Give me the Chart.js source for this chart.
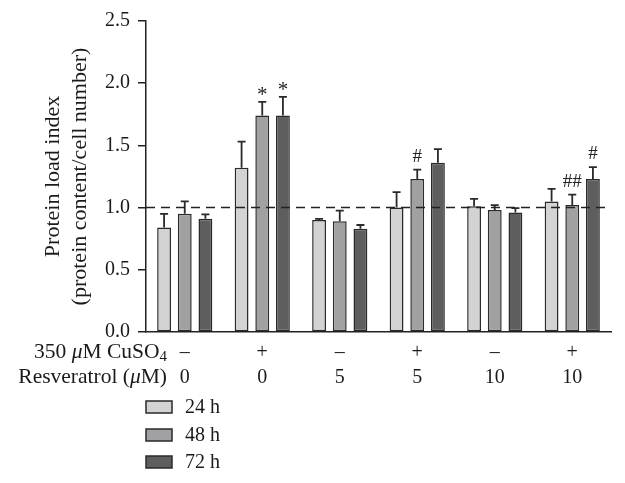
<!DOCTYPE html>
<html>
<head>
<meta charset="utf-8">
<script src="https://cdn.jsdelivr.net/npm/chart.js@4"></script>
<style>
html,body{margin:0;padding:0;background:#fff;}
#wrap{width:625px;height:483px;}
</style>
</head>
<body>
<div id="wrap"><canvas id="c" width="625" height="483"></canvas></div>
<script>
// ---- data ----
const cuso4Row = ['–', '+', '–', '+', '–', '+'];
const resveratrolRow = ['0', '0', '5', '5', '10', '10'];
const seriesNames = ['24 h', '48 h', '72 h'];
const values24 = [0.84, 1.32, 0.90, 1.00, 1.01, 1.05];
const values48 = [0.95, 1.74, 0.89, 1.23, 0.98, 1.02];
const values72 = [0.91, 1.74, 0.83, 1.36, 0.96, 1.23];
const err24 = [0.11, 0.21, 0.01, 0.125, 0.06, 0.10];
const err48 = [0.10, 0.11, 0.085, 0.075, 0.04, 0.085];
const err72 = [0.035, 0.15, 0.03, 0.11, 0.035, 0.095];
const marks24 = ['', '', '', '', '', ''];
const marks48 = ['', '*', '', '#', '', '##'];
const marks72 = ['', '*', '', '', '', '#'];
const yTicks = [0, 0.5, 1.0, 1.5, 2.0, 2.5];
const referenceLevel = 1.0;
const yTitleLines = ['Protein load index', '(protein content/cell number)'];

const colors = ['#d3d3d3', '#a1a1a4', '#5e5e5e'];
const edge = '#2a2a2a';
const FONT = '"Liberation Serif", "Times New Roman", serif';

const labels = cuso4Row.map((c, i) => [c, resveratrolRow[i]]);
const vals = [values24, values48, values72];
const errs = [err24, err48, err72];
const marks = [marks24, marks48, marks72];

const datasets = seriesNames.map((n, k) => ({
  label: n,
  data: vals[k],
  backgroundColor: colors[k],
  borderColor: edge,
  borderWidth: 1.5,
  borderSkipped: false,
  categoryPercentage: 0.8,
  barPercentage: 0.67,
  errors: errs[k],
  marks: marks[k]
}));

const extras = {
  id: 'extras',
  afterDatasetsDraw(chart) {
    const ctx = chart.ctx;
    const y = chart.scales.y;
    const area = chart.chartArea;
    ctx.save();
    chart.data.datasets.forEach((ds, di) => {
      const meta = chart.getDatasetMeta(di);
      meta.data.forEach((bar, i) => {
        const v = ds.data[i], e = ds.errors[i];
        const top = y.getPixelForValue(v);
        const et = y.getPixelForValue(v + e);
        ctx.strokeStyle = edge;
        ctx.lineWidth = 1.8;
        ctx.beginPath();
        ctx.moveTo(bar.x, top);
        ctx.lineTo(bar.x, et);
        ctx.moveTo(bar.x - 4, et);
        ctx.lineTo(bar.x + 4, et);
        ctx.stroke();
        const m = ds.marks[i];
        if (m) {
          ctx.fillStyle = '#222';
          ctx.font = (m === '*' ? '21px ' : '19px ') + FONT;
          ctx.textAlign = 'center';
          ctx.textBaseline = 'alphabetic';
          ctx.fillText(m, bar.x, et - (m === '*' ? 1 : 8));
        }
      });
    });
    const ry = y.getPixelForValue(referenceLevel);
    ctx.setLineDash([9, 6]);
    ctx.lineWidth = 1.5;
    ctx.strokeStyle = '#222';
    ctx.beginPath();
    ctx.moveTo(area.left, ry);
    ctx.lineTo(area.right, ry);
    ctx.stroke();
    ctx.setLineDash([]);
    ctx.restore();
  },
  afterDraw(chart) {
    const ctx = chart.ctx;
    const area = chart.chartArea;
    const x = chart.scales.x;
    ctx.save();
    ctx.fillStyle = '#1a1a1a';
    ctx.font = '22px ' + FONT;
    ctx.textAlign = 'center';
    ctx.textBaseline = 'middle';
    const cy = (area.top + area.bottom) / 2;
    [53, 80].forEach((px, i) => {
      ctx.save();
      ctx.translate(px, cy);
      ctx.rotate(-Math.PI / 2);
      ctx.fillText(yTitleLines[i], 0, 0);
      ctx.restore();
    });
    const rightX = 167;
    const lh = 25;
    const row1y = x.top + 8 + lh * 0.5;
    const row2y = row1y + lh;
    ctx.textBaseline = 'middle';
    function drawParts(parts, yy) {
      let w = 0;
      parts.forEach(p => { ctx.font = p.f; w += ctx.measureText(p.t).width; });
      let cx = rightX - w;
      ctx.textAlign = 'left';
      parts.forEach(p => {
        ctx.font = p.f;
        ctx.fillText(p.t, cx, yy + (p.dy || 0));
        cx += ctx.measureText(p.t).width;
      });
    }
    const n = '21.5px ' + FONT, it = 'italic 21.5px ' + FONT, sub = '15px ' + FONT;
    drawParts([{t: '350 ', f: n}, {t: 'μ', f: it}, {t: 'M CuSO', f: n}, {t: '4', f: sub, dy: 5}], row1y);
    drawParts([{t: 'Resveratrol (', f: n}, {t: 'μ', f: it}, {t: 'M)', f: n}], row2y);
    const ly = [407, 435, 462];
    chart.data.datasets.forEach((ds, i) => {
      ctx.fillStyle = ds.backgroundColor;
      ctx.strokeStyle = edge;
      ctx.lineWidth = 1.5;
      ctx.fillRect(146, ly[i] - 6, 26, 12);
      ctx.strokeRect(146, ly[i] - 6, 26, 12);
      ctx.fillStyle = '#1a1a1a';
      ctx.font = '20px ' + FONT;
      ctx.textAlign = 'left';
      ctx.textBaseline = 'middle';
      ctx.fillText(ds.label, 185, ly[i] + 1);
    });
    ctx.restore();
  }
};

new Chart(document.getElementById('c'), {
  type: 'bar',
  data: { labels, datasets },
  plugins: [extras],
  options: {
    responsive: false,
    devicePixelRatio: 1,
    animation: false,
    layout: { padding: { left: 0, right: 14, top: 21, bottom: 0 } },
    plugins: { legend: { display: false }, tooltip: { enabled: false } },
    scales: {
      x: {
        grid: { display: false, drawTicks: false },
        border: { display: true, color: '#222', width: 1.5 },
        ticks: {
          color: '#1a1a1a',
          font: { family: FONT, size: 20, lineHeight: 1.25 },
          padding: 8,
          maxRotation: 0,
          autoSkip: false
        },
        afterFit(s) { s.height = 151; }
      },
      y: {
        min: 0, max: 2.5,
        afterBuildTicks(s) { s.ticks = yTicks.map(v => ({ value: v })); },
        grid: { display: true, drawOnChartArea: false, drawTicks: true, tickLength: 8, color: '#222', lineWidth: 1.5 },
        border: { display: true, color: '#222', width: 1.5 },
        ticks: {
          color: '#1a1a1a',
          font: { family: FONT, size: 20 },
          padding: 8,
          callback: v => v.toFixed(1)
        },
        afterFit(s) { s.width = 146; }
      }
    }
  }
});
</script>
</body>
</html>
